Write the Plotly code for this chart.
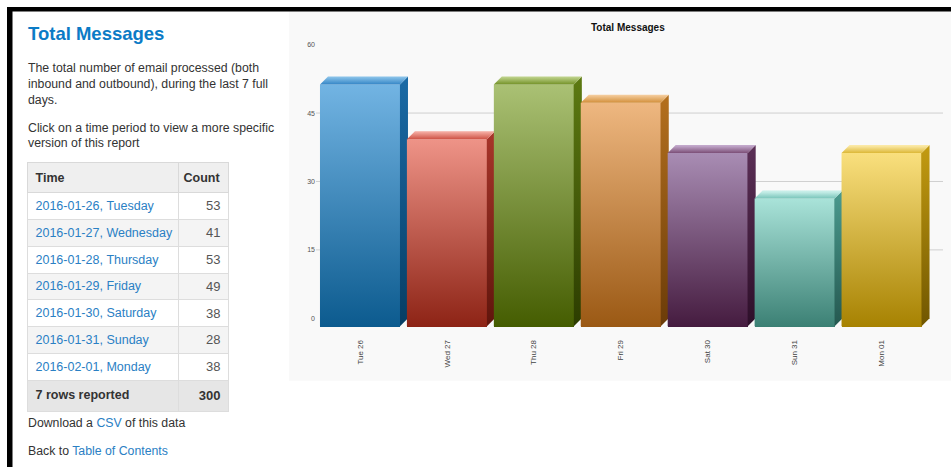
import plotly.graph_objects as go

# ---------------- data ----------------
day_labels = ["Tue 26", "Wed 27", "Thu 28", "Fri 29", "Sat 30", "Sun 31", "Mon 01"]
date_labels = ["2016-01-26, Tuesday", "2016-01-27, Wednesday", "2016-01-28, Thursday",
               "2016-01-29, Friday", "2016-01-30, Saturday", "2016-01-31, Sunday",
               "2016-02-01, Monday"]
counts = [53, 41, 53, 49, 38, 28, 38]
y_tick_vals = [0, 15, 30, 45, 60]
grid_vals = [15, 30, 45]

# colour styling per bar
front_top = ["#72b4e3", "#ee9387", "#aac174", "#eeb780", "#a88cb3", "#a8e2d8", "#f9df7d"]
front_bot = ["#0b5a8e", "#8c2214", "#445c00", "#9a5813", "#441a3e", "#3a7f73", "#a68100"]
side_top = ["#1a6aa6", "#a8352a", "#5d7a12", "#b4701e", "#5b2f56", "#4a9a8e", "#c39b10"]
side_bot = ["#063d63", "#5f150c", "#2c3c00", "#6a3b08", "#2d0f29", "#24574f", "#6f5500"]
lid_dark = ["#2f82c4", "#c9483a", "#6f8e22", "#d08a32", "#74456e", "#68bcb0", "#d9b22a"]
lid_light = ["#8cc4ea", "#f4aaa0", "#c0d48e", "#f4cc9c", "#c2a8cb", "#c6eee8", "#fbe9a6"]

# ---------------- geometry helpers ----------------
W, H = 951, 467


def px(x):
    return x / W


def py(y):
    return 1 - y / H


PLOT_L, PLOT_R = 316, 943
PLOT_T, PLOT_B = 41, 326.2
x_range = [-0.506, 6.707]
y_range = [-2, 60]
ux = (PLOT_R - PLOT_L) / (x_range[1] - x_range[0])
uy = (PLOT_B - PLOT_T) / (y_range[1] - y_range[0])
dx = 8 / ux          # 3d depth, in data units
dy = 8 / uy
hw = 40 / ux         # half width of front face

FONT = "Liberation Sans, Arial, sans-serif"
NB = "\u00a0"

fig = go.Figure()

# plain bars (front faces)
fig.add_trace(go.Bar(
    x=list(range(len(counts))), y=counts, base=-dy, width=2 * hw,
    marker=dict(color=front_bot, line=dict(width=0)),
    hovertext=date_labels, showlegend=False,
))

for i, v in enumerate(counts):
    xl, xr = i - hw, i + hw
    yb, yt = -dy, v - dy
    # front face with vertical gradient
    fig.add_trace(go.Scatter(
        x=[xl, xr, xr, xl, xl], y=[yb, yb, yt, yt, yb], mode="lines",
        fill="toself", line=dict(width=0, color="rgba(0,0,0,0)"),
        fillgradient=dict(type="vertical", start=yb, stop=yt,
                          colorscale=[[0, front_bot[i]], [1, front_top[i]]]),
        hoverinfo="skip", showlegend=False))
    # side face
    fig.add_trace(go.Scatter(
        x=[xr, xr + dx, xr + dx, xr, xr], y=[yb, 0, v, yt, yb], mode="lines",
        fill="toself", line=dict(width=0, color="rgba(0,0,0,0)"),
        fillgradient=dict(type="vertical", start=yb, stop=v,
                          colorscale=[[0, side_bot[i]], [1, side_top[i]]]),
        hoverinfo="skip", showlegend=False))
    # top face
    fig.add_trace(go.Scatter(
        x=[xl, xr, xr + dx, xl + dx, xl], y=[yt, yt, v, v, yt], mode="lines",
        fill="toself", line=dict(width=0, color="rgba(0,0,0,0)"),
        fillgradient=dict(type="vertical", start=yt, stop=v,
                          colorscale=[[0, lid_dark[i]], [1, lid_light[i]]]),
        hoverinfo="skip", showlegend=False))

# table
total = sum(counts)
row_fill = ["#ffffff" if k % 2 == 0 else "#f4f4f4" for k in range(len(counts))] + ["#e6e6e6"]
col0 = [d.replace(" ", NB) for d in date_labels] + \
    ["<b>%d%srows%sreported</b>" % (len(counts), NB, NB)]
col1 = [str(c) for c in counts] + ["<b>%d</b>" % total]
fig.add_trace(go.Table(
    domain=dict(x=[px(27.5), px(228.5)], y=[py(430), py(160)]),
    columnwidth=[150, 50],
    header=dict(values=["<b>Time</b>", "<b>Count</b>"], fill_color="#efefef",
                line=dict(color="#d9d9d9", width=1), align=["left", "right"],
                font=dict(family=FONT, size=12.5, color="#333333"), height=29),
    cells=dict(values=[col0, col1], fill_color=[row_fill, row_fill],
               line=dict(color="#dddddd", width=1), align=["left", "right"],
               font=dict(family=FONT, size=[12.5, 13],
                         color=[["#2a80c4"] * len(counts) + ["#333333"],
                                ["#555555"] * len(counts) + ["#333333"]]),
               height=26.8),
))

shapes = [
    # chart panel
    dict(type="rect", xref="paper", yref="paper", x0=px(289), x1=px(951), y0=py(380), y1=py(7),
         fillcolor="#f9f9f9", line=dict(width=0), layer="below"),
    # black frame
    dict(type="rect", xref="paper", yref="paper", x0=px(7), x1=px(951), y0=py(7.5), y1=py(3),
         fillcolor="#000000", line=dict(width=0)),
    dict(type="rect", xref="paper", yref="paper", x0=px(7), x1=px(12.5), y0=py(467), y1=py(3),
         fillcolor="#000000", line=dict(width=0)),
]
for g in grid_vals:
    shapes.append(dict(type="line", xref="paper", yref="y", x0=px(PLOT_L), x1=px(PLOT_R),
                       y0=g, y1=g, line=dict(color="#cfcfcf", width=1), layer="below"))

annotations = [
    dict(text="<b>Total Messages</b>", x=px(628), y=py(24), font=dict(size=10, color="#111111")),
    dict(text="<b>Total Messages</b>", x=px(26), y=py(30), xanchor="left",
         font=dict(size=18.5, color="#0b7bc6")),
    dict(text="The total number of email processed (both", x=px(26), y=py(65), xanchor="left"),
    dict(text="inbound and outbound), during the last 7 full", x=px(26), y=py(81), xanchor="left"),
    dict(text="days.", x=px(26), y=py(97), xanchor="left"),
    dict(text="Click on a time period to view a more specific", x=px(26), y=py(125), xanchor="left"),
    dict(text="version of this report", x=px(26), y=py(140), xanchor="left"),
    dict(text="Download a <span style='color:#2a80c4'>CSV</span> of this data", x=px(26), y=py(423),
         xanchor="left"),
    dict(text="Back to <span style='color:#2a80c4'>Table of Contents</span>", x=px(26), y=py(451),
         xanchor="left"),
]
for a in annotations:
    a.setdefault("xref", "paper")
    a.setdefault("yref", "paper")
    a.setdefault("showarrow", False)
    a.setdefault("yanchor", "middle")
    a.setdefault("xanchor", "center")
    a.setdefault("font", dict(size=12.3, color="#333333"))
    a["font"].setdefault("family", FONT)
    a["font"].setdefault("color", "#333333")

fig.update_layout(
    width=W, height=H, margin=dict(l=0, r=0, t=0, b=0),
    paper_bgcolor="#ffffff", plot_bgcolor="rgba(0,0,0,0)",
    font=dict(family=FONT, color="#333333"),
    shapes=shapes, annotations=annotations, bargap=0,
    xaxis=dict(domain=[px(PLOT_L), px(PLOT_R)], range=x_range, tickmode="array",
               tickvals=list(range(len(day_labels))), ticktext=day_labels, tickangle=-90,
               showgrid=False, zeroline=False, showline=False, ticks="",
               ticklabelstandoff=10, tickfont=dict(size=8, color="#444444")),
    yaxis=dict(domain=[py(PLOT_B), py(PLOT_T)], range=y_range, tickmode="array",
               tickvals=y_tick_vals, showgrid=False, zeroline=False, showline=False,
               ticks="", tickfont=dict(size=7, color="#555555")),
)

fig.write_html("out.html", config={"displayModeBar": False},
               post_script="document.body.style.margin='0';document.body.style.padding='0';")
